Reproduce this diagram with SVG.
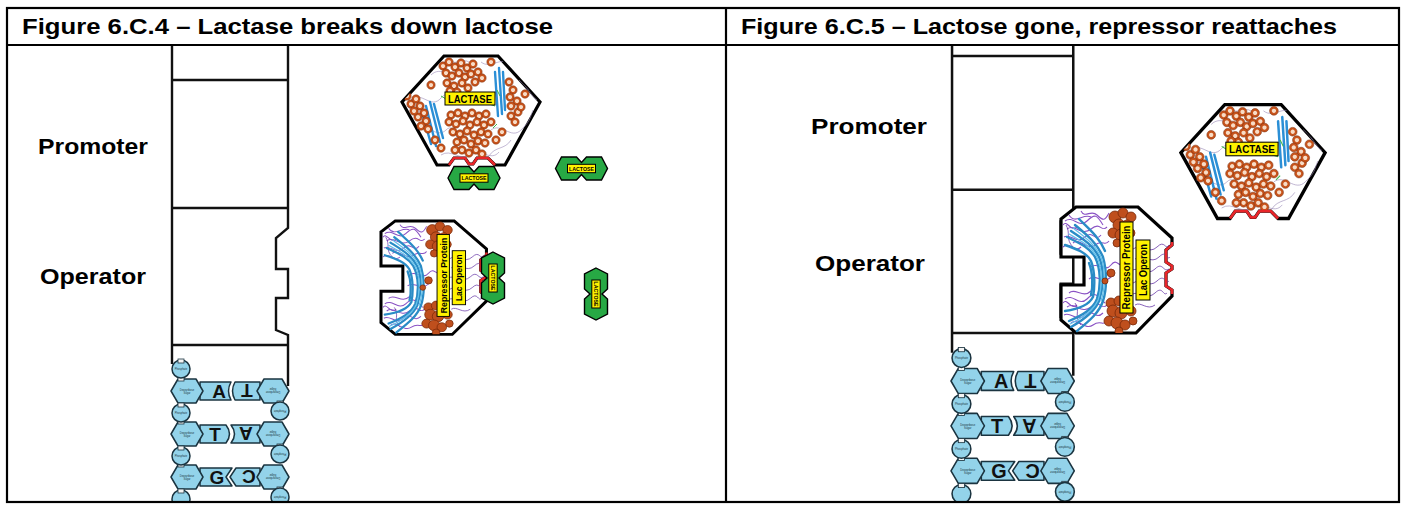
<svg xmlns="http://www.w3.org/2000/svg" xmlns:xlink="http://www.w3.org/1999/xlink" width="1403" height="506" viewBox="0 0 1403 506">
  <style>
    .frame { fill: none; stroke: #000; stroke-width: 2.2; }
    .col { fill: none; stroke: #111; stroke-width: 2.4; }
    .hd { font-family: "Liberation Sans", Arial, sans-serif; font-weight: bold; font-size: 21.5px; fill: #000; }
    .lbl { font-family: "Liberation Sans", Arial, sans-serif; font-weight: bold; font-size: 22.5px; fill: #000; }
    .nt { fill: #93d3ea; stroke: #1b3440; stroke-width: 1.5; stroke-linejoin: round; }
    .lnk { fill: #f4f4f4; stroke: #1b3440; stroke-width: 0.8; }
    .let { font-family: "Liberation Sans", Arial, sans-serif; font-weight: bold; font-size: 19px; fill: #111; text-anchor: middle; }
    .tiny { font-family: "Liberation Sans", Arial, sans-serif; font-size: 2.6px; fill: #1b3440; text-anchor: middle; }
    .tag { fill: #fff200; stroke: #000; stroke-width: 1; }
    .tagt { font-family: "Liberation Sans", Arial, sans-serif; font-weight: bold; fill: #000; text-anchor: middle; }
    .outl { fill: #fff; stroke: #000; stroke-width: 3.2; stroke-linejoin: miter; }
    .site { fill: none; stroke: #e8262a; stroke-width: 2.6; stroke-linejoin: miter; }
    .pur { fill: none; stroke: #8a52c4; stroke-width: 1.1; }
    .pur2 { fill: none; stroke: #6a3aa8; stroke-width: 0.8; }
    .blu { fill: none; stroke: #2a8cc6; stroke-width: 2.4; stroke-linecap: round; }
    .blu2 { fill: none; stroke: #63c0ea; stroke-width: 1.3; stroke-linecap: round; }
    .brn { fill: #bf4f1d; stroke: #7a2a0a; stroke-width: 0.8; }
    .loop { fill: none; stroke: #9c8cb8; stroke-width: 0.6; }
    .sheet { fill: none; stroke: #2b8fd6; stroke-width: 2.4; stroke-linecap: round; }
    .grn { fill: none; stroke: #3cb84a; stroke-width: 1; }
    .sugar { fill: #27a844; stroke: #000; stroke-width: 1.4; stroke-linejoin: miter; }
  </style>

  <defs>
    <!-- orange alpha-helix coil seen end-on -->
    <g id="hx">
      <circle r="3.1" fill="#f7dcc6" stroke="#c8541c" stroke-width="2.1"/>
      <circle r="4.2" fill="none" stroke="#7a2c0c" stroke-width="0.5"/>
    </g>

    <!-- lactose: two joined hexagonal rings with a name tag -->
    <g id="lactose">
      <path class="sugar" d="M-26,0 L-20,-11.5 H-5 L0,-6 L5,-11.5 H20 L26,0 L20,11.5 H5 L0,6 L-5,11.5 H-20 Z"/>
      <rect class="tag" x="-14" y="-4.2" width="28" height="8.4" stroke-width="0.7"/>
      <text class="tagt" x="0" y="2.2" font-size="6" font-weight="normal" textLength="25" lengthAdjust="spacingAndGlyphs">LACTOSE</text>
    </g>

    <clipPath id="lactaseClip">
      <path d="M-27,-54 H27 L69,-8 L34,55 H-34 L-69,-8 Z"/>
    </clipPath>

    <!-- lactase enzyme, hexagonal outline with red substrate site on the bottom -->
    <g id="lactase">
      <path class="outl" d="M-27,-54 H27 L69,-8 L34,55 H24 L17,48 H6 L2,54 H-2 L-6,48 H-17 L-22,55 H-34 L-69,-8 Z"/>
      <g clip-path="url(#lactaseClip)">
        <g class="loop">
          <path d="M-60,-10 C-50,-20 -40,0 -30,-12 S-10,-2 0,-10"/>
          <path d="M-55,20 C-45,10 -35,30 -25,20 S-15,40 -5,30"/>
          <path d="M10,-48 C20,-40 30,-55 40,-45 S50,-30 58,-20"/>
          <path d="M20,20 C30,12 40,30 50,20 S58,10 62,0"/>
          <path d="M-40,-35 C-30,-45 -20,-30 -10,-40"/>
          <path d="M-30,45 C-20,38 -10,52 0,45 S20,52 28,42"/>
          <path d="M40,30 C34,40 24,36 18,46"/>
          <path d="M-64,-4 C-58,4 -50,-2 -44,6"/>
          <path d="M48,-30 C56,-24 60,-14 66,-10"/>
          <path d="M-20,-50 C-16,-44 -8,-52 -2,-48"/>
        </g>
        <g class="sheet">
          <path d="M-45,-4 L-35,36"/>
          <path d="M-41,-8 L-31,32"/>
          <path d="M-37,-6 L-28,28"/>
          <path d="M-49,2 L-40,34"/>
          <path d="M24,-38 L27,6"/>
          <path d="M28,-42 L31,4"/>
          <path d="M32,-38 L34,0"/>
        </g>
        <g>
          <use xlink:href="#hx" x="-28" y="-44"/><use xlink:href="#hx" x="-22" y="-48"/><use xlink:href="#hx" x="-16" y="-43"/>
          <use xlink:href="#hx" x="-10" y="-47"/><use xlink:href="#hx" x="-4" y="-42"/><use xlink:href="#hx" x="2" y="-46"/>
          <use xlink:href="#hx" x="-25" y="-37"/><use xlink:href="#hx" x="-19" y="-34"/><use xlink:href="#hx" x="-12" y="-37"/>
          <use xlink:href="#hx" x="-6" y="-33"/><use xlink:href="#hx" x="0" y="-36"/><use xlink:href="#hx" x="7" y="-38"/>
          <use xlink:href="#hx" x="-24" y="-27"/><use xlink:href="#hx" x="-17" y="-24"/><use xlink:href="#hx" x="-9" y="-27"/>
          <use xlink:href="#hx" x="-3" y="-22"/><use xlink:href="#hx" x="4" y="-28"/><use xlink:href="#hx" x="11" y="-32"/>
          <use xlink:href="#hx" x="-14" y="-18"/><use xlink:href="#hx" x="-21" y="-19"/>
          <use xlink:href="#hx" x="-20" y="5"/><use xlink:href="#hx" x="-13" y="3"/><use xlink:href="#hx" x="-6" y="6"/>
          <use xlink:href="#hx" x="1" y="3"/><use xlink:href="#hx" x="8" y="6"/><use xlink:href="#hx" x="15" y="4"/>
          <use xlink:href="#hx" x="-22" y="12"/><use xlink:href="#hx" x="-15" y="14"/><use xlink:href="#hx" x="-8" y="11"/>
          <use xlink:href="#hx" x="-1" y="15"/><use xlink:href="#hx" x="6" y="12"/><use xlink:href="#hx" x="13" y="15"/>
          <use xlink:href="#hx" x="20" y="12"/><use xlink:href="#hx" x="-18" y="22"/><use xlink:href="#hx" x="-11" y="24"/>
          <use xlink:href="#hx" x="-4" y="21"/><use xlink:href="#hx" x="3" y="25"/><use xlink:href="#hx" x="10" y="22"/>
          <use xlink:href="#hx" x="17" y="24"/><use xlink:href="#hx" x="-14" y="32"/><use xlink:href="#hx" x="-7" y="30"/>
          <use xlink:href="#hx" x="0" y="34"/><use xlink:href="#hx" x="7" y="31"/><use xlink:href="#hx" x="14" y="33"/>
          <use xlink:href="#hx" x="-9" y="40"/><use xlink:href="#hx" x="-2" y="43"/><use xlink:href="#hx" x="5" y="40"/>
          <use xlink:href="#hx" x="11" y="44"/><use xlink:href="#hx" x="-16" y="40"/>
          <use xlink:href="#hx" x="-60" y="-6"/><use xlink:href="#hx" x="-55" y="-11"/><use xlink:href="#hx" x="-51" y="-4"/>
          <use xlink:href="#hx" x="-47" y="3"/><use xlink:href="#hx" x="-53" y="7"/><use xlink:href="#hx" x="-45" y="11"/>
          <use xlink:href="#hx" x="-50" y="16"/><use xlink:href="#hx" x="-43" y="19"/><use xlink:href="#hx" x="-57" y="1"/>
          <use xlink:href="#hx" x="38" y="-28"/><use xlink:href="#hx" x="42" y="-20"/><use xlink:href="#hx" x="39" y="-13"/>
          <use xlink:href="#hx" x="46" y="-9"/><use xlink:href="#hx" x="40" y="-4"/><use xlink:href="#hx" x="47" y="2"/>
          <use xlink:href="#hx" x="40" y="6"/><use xlink:href="#hx" x="44" y="12"/><use xlink:href="#hx" x="50" y="-3"/>
          <use xlink:href="#hx" x="-36" y="30"/><use xlink:href="#hx" x="-30" y="38"/><use xlink:href="#hx" x="25" y="30"/>
          <use xlink:href="#hx" x="31" y="22"/><use xlink:href="#hx" x="-40" y="-25"/><use xlink:href="#hx" x="20" y="-48"/>
          <use xlink:href="#hx" x="-64" y="-14"/><use xlink:href="#hx" x="54" y="-16"/>
        </g>
        <g class="grn">
          <path d="M-30,-14 l5,3"/><path d="M18,-6 l6,2"/><path d="M22,18 l4,-4"/><path d="M-4,-10 l4,4"/><path d="M26,-20 l3,6"/>
        </g>
      </g>
      <path class="site" d="M24,55 L17,48 H6 L2,54 H-2 L-6,48 H-17 L-22,55"/>
      <rect class="tag" x="-26" y="-18" width="50" height="13" stroke-width="1.2"/>
      <text class="tagt" x="-1" y="-7.3" font-size="11" textLength="44" lengthAdjust="spacingAndGlyphs">LACTASE</text>
    </g>

    <clipPath id="repClip">
      <path d="M0,12 L15,0 H77 L111,31 V89 L75,126 H15 L0,113 V78 H23 V50 H0 Z"/>
    </clipPath>

    <!-- lac repressor protein with operator-shaped slot on the left and inducer site on the right -->
    <g id="repressor">
      <path class="outl" d="M0,12 L15,0 H77 L111,31 V38 L105,43 V55 L111,59 V62 L105,66 V79 L111,83 V89 L75,126 H15 L0,113 V78 H23 V50 H0 Z"/>
      <g clip-path="url(#repClip)">
        <g class="pur">
          <path d="M4,14 C12,8 18,22 26,14 S36,8 42,18"/>
          <path d="M6,22 C14,16 20,30 30,22 S40,26 46,20"/>
          <path d="M3,30 C10,26 16,38 24,30 S34,36 40,28"/>
          <path d="M8,8 C14,18 22,6 30,10"/>
          <path d="M12,36 C18,30 26,44 34,38 S44,40 48,34"/>
          <path d="M20,4 C24,12 30,2 36,8 S44,14 48,6"/>
          <path d="M2,40 C8,34 14,46 20,40"/>
          <path d="M2,18 C6,12 10,26 16,20"/>
          <path d="M4,92 C12,86 18,100 26,92 S36,88 44,96"/>
          <path d="M6,100 C14,94 20,108 30,100 S40,104 46,98"/>
          <path d="M3,108 C10,104 16,116 24,108 S34,114 42,106"/>
          <path d="M10,116 C16,110 24,124 32,118 S42,120 46,114"/>
          <path d="M8,86 C14,80 22,92 30,84"/>
          <path d="M2,96 C6,90 10,104 16,98"/>
          <path d="M30,60 C36,54 44,66 50,58 S58,62 62,56"/>
          <path d="M28,72 C34,66 42,78 50,70"/>
        </g>
        <g class="pur2">
          <path d="M72,42 C80,36 88,48 96,40 S104,44 108,38"/>
          <path d="M74,52 C82,46 90,58 98,50 S106,54 109,50"/>
          <path d="M70,64 C78,58 86,70 94,62 S102,66 108,62"/>
          <path d="M72,76 C80,70 88,82 96,74 S104,78 108,74"/>
          <path d="M70,88 C78,82 86,94 94,86 S102,90 106,86"/>
          <path d="M74,98 C80,94 86,104 94,98"/>
          <path d="M5,18 C10,26 4,32 12,40"/>
          <path d="M14,96 C20,104 12,110 20,118"/>
        </g>
        <g class="blu">
          <path d="M6,30 C18,36 28,40 34,50 C40,62 40,80 36,92 C32,102 22,108 8,114"/>
          <path d="M10,24 C22,32 32,38 38,50 C44,64 42,82 38,94 C34,104 24,112 10,120"/>
          <path d="M14,18 C26,28 36,36 42,50 C46,64 46,82 42,94 C38,106 28,114 16,124"/>
          <path d="M4,38 C16,42 26,46 30,54 C34,64 34,80 32,90 C28,98 18,102 4,104"/>
          <path d="M18,12 C28,22 38,30 44,44"/>
          <path d="M28,56 C32,66 32,80 30,88"/>
        </g>
        <g class="blu2">
          <path d="M8,27 C20,34 30,39 36,50 C42,63 41,81 37,93 C33,103 23,110 9,117"/>
          <path d="M12,21 C24,30 34,37 40,50 C45,64 44,82 40,94"/>
        </g>
        <g class="brn">
          <circle cx="54" cy="10" r="6"/><circle cx="62" cy="6" r="5"/><circle cx="70" cy="10" r="5"/>
          <circle cx="58" cy="18" r="6"/><circle cx="66" cy="18" r="5"/><circle cx="52" cy="26" r="5"/>
          <circle cx="60" cy="28" r="6"/><circle cx="70" cy="26" r="4"/><circle cx="56" cy="36" r="4"/>
          <circle cx="66" cy="34" r="4"/>
          <circle cx="50" cy="96" r="5"/><circle cx="58" cy="94" r="5"/><circle cx="66" cy="98" r="5"/>
          <circle cx="52" cy="104" r="6"/><circle cx="60" cy="106" r="6"/><circle cx="70" cy="104" r="5"/>
          <circle cx="48" cy="114" r="5"/><circle cx="56" cy="116" r="6"/><circle cx="64" cy="118" r="5"/>
          <circle cx="72" cy="114" r="4"/><circle cx="58" cy="124" r="4"/>
          <circle cx="50" cy="66" r="4"/><circle cx="44" cy="74" r="3"/>
        </g>
      </g>
      <path class="site" d="M111,35 V38 L105,43 V55 L111,59 V62 L105,66 V79 L111,83 V87"/>
      <rect class="tag" x="59" y="15" width="13" height="91" stroke-width="1.2"/>
      <text class="tagt" transform="translate(65.5,60.5) rotate(-90)" x="0" y="3.6" font-size="10" textLength="84" lengthAdjust="spacingAndGlyphs">Repressor Protein</text>
      <rect class="tag" x="75" y="33" width="14" height="60" stroke-width="1.2"/>
      <text class="tagt" transform="translate(82,63) rotate(-90)" x="0" y="3.6" font-size="10" textLength="52" lengthAdjust="spacingAndGlyphs">Lac Operon</text>
    </g>

    <!-- DNA strip: promoter / operator cells above a short A-T, T-A, G-C ladder -->
    <g id="dna">
      <line class="col" x1="172" y1="40" x2="172" y2="364"/>
      <path class="col" d="M288,40 V228 L276,238 V269 H288 V298 H276 V330 L288,335 V386"/>
      <line class="col" x1="172" y1="80" x2="288" y2="80"/>
      <line class="col" x1="172" y1="208" x2="288" y2="208"/>
      <line class="col" x1="172" y1="345" x2="288" y2="345"/>

      <!-- base pairs -->
      <path class="nt" d="M200,382 H231 Q226,391 231,400 H200 Z"/>
      <path class="nt" d="M235,382 Q230,391 235,400 H260 V382 Z"/>
      <path class="nt" d="M200,425 H226 Q233,434 226,443 H200 Z"/>
      <path class="nt" d="M231,425 Q238,434 231,443 H260 V425 Z"/>
      <path class="nt" d="M200,468 H232 L226,477 L232,486 H200 Z"/>
      <path class="nt" d="M236,468 L230,477 L236,486 H260 V468 Z"/>
      <text class="let" x="219" y="398">A</text>
      <text class="let" transform="translate(247,391) rotate(180)" x="0" y="7">T</text>
      <text class="let" x="215" y="441">T</text>
      <text class="let" transform="translate(246,434) rotate(180)" x="0" y="7">A</text>
      <text class="let" x="217" y="484">G</text>
      <text class="let" transform="translate(249,477) rotate(180)" x="0" y="7">C</text>

      <!-- deoxyribose sugars -->
      <polygon class="nt" points="171,391 178,379 196,379 203,391 196,403 178,403"/>
      <polygon class="nt" points="171,434 178,422 196,422 203,434 196,446 178,446"/>
      <polygon class="nt" points="171,477 178,465 196,465 203,477 196,489 178,489"/>
      <polygon class="nt" points="289,391 282,379 264,379 257,391 264,403 282,403"/>
      <polygon class="nt" points="289,434 282,422 264,422 257,434 264,446 282,446"/>
      <polygon class="nt" points="289,477 282,465 264,465 257,477 264,489 282,489"/>
      <text class="tiny" x="187" y="391">Deoxyribose</text><text class="tiny" x="187" y="394">Sugar</text>
      <text class="tiny" x="187" y="434">Deoxyribose</text><text class="tiny" x="187" y="437">Sugar</text>
      <text class="tiny" x="187" y="477">Deoxyribose</text><text class="tiny" x="187" y="480">Sugar</text>
      <text class="tiny" transform="translate(273,391) rotate(180)">Deoxyribose</text><text class="tiny" transform="translate(273,388) rotate(180)">Sugar</text>
      <text class="tiny" transform="translate(273,434) rotate(180)">Deoxyribose</text><text class="tiny" transform="translate(273,431) rotate(180)">Sugar</text>
      <text class="tiny" transform="translate(273,477) rotate(180)">Deoxyribose</text><text class="tiny" transform="translate(273,474) rotate(180)">Sugar</text>

      <!-- phosphates -->
      <rect class="lnk" x="178" y="376" width="6" height="5"/>
      <rect class="lnk" x="178" y="419" width="6" height="5"/>
      <rect class="lnk" x="178" y="462" width="6" height="5"/>
      <rect class="lnk" x="277" y="401" width="6" height="5"/>
      <rect class="lnk" x="277" y="444" width="6" height="5"/>
      <rect class="lnk" x="277" y="487" width="6" height="5"/>
      <circle class="nt" cx="181" cy="369" r="9"/>
      <circle class="nt" cx="181" cy="413" r="9"/>
      <circle class="nt" cx="181" cy="456" r="9"/>
      <circle class="nt" cx="181" cy="499" r="9"/>
      <circle class="nt" cx="280" cy="411" r="9"/>
      <circle class="nt" cx="280" cy="454" r="9"/>
      <circle class="nt" cx="280" cy="497" r="9"/>
      <rect class="lnk" x="178" y="359" width="6" height="4"/>
      <rect class="lnk" x="178" y="403" width="6" height="4"/>
      <rect class="lnk" x="178" y="446" width="6" height="4"/>
      <rect class="lnk" x="178" y="489" width="6" height="4"/>
      <text class="tiny" x="181" y="370">Phosphate</text>
      <text class="tiny" x="181" y="414">Phosphate</text>
      <text class="tiny" x="181" y="457">Phosphate</text>
      <text class="tiny" transform="translate(280,410) rotate(180)">Phosphate</text>
      <text class="tiny" transform="translate(280,453) rotate(180)">Phosphate</text>
      <text class="tiny" transform="translate(280,496) rotate(180)">Phosphate</text>
    </g>

    <clipPath id="leftCell"><rect x="8" y="45" width="717" height="456"/></clipPath>
    <clipPath id="rightCell"><rect x="727" y="45" width="671" height="456"/></clipPath>
  </defs>

  <rect width="1403" height="506" fill="#fff"/>

  <!-- left panel: lactase breaks down lactose -->
  <g id="panel-left" clip-path="url(#leftCell)">
    <use id="dna-left" xlink:href="#dna"/>
    <g id="lactase-left"><use xlink:href="#lactase" transform="translate(471,110)"/></g>
    <g id="lactose-bound"><use xlink:href="#lactose" transform="translate(474,178)"/></g>
    <g id="lactose-free-1"><use xlink:href="#lactose" transform="translate(581.5,168.5)"/></g>
    <g id="repressor-left"><use xlink:href="#repressor" transform="translate(381,221) scale(0.95,0.9)"/></g>
    <g id="lactose-on-repressor"><use xlink:href="#lactose" transform="translate(493,278) rotate(90)"/></g>
    <g id="lactose-free-2"><use xlink:href="#lactose" transform="translate(596,294) rotate(90)"/></g>
    <text class="lbl" x="38" y="154" textLength="110" lengthAdjust="spacingAndGlyphs">Promoter</text>
    <text class="lbl" x="40" y="284" textLength="106" lengthAdjust="spacingAndGlyphs">Operator</text>
  </g>

  <!-- right panel: repressor back on the operator -->
  <g id="panel-right" clip-path="url(#rightCell)">
    <use id="dna-right" xlink:href="#dna" transform="translate(772.3,-27.6) scale(1.045)"/>
    <g id="repressor-right"><use xlink:href="#repressor" transform="translate(1061,207)"/></g>
    <g id="lactase-right"><use xlink:href="#lactase" transform="translate(1253,161) scale(1.045)"/></g>
    <text class="lbl" x="811" y="134" textLength="116" lengthAdjust="spacingAndGlyphs">Promoter</text>
    <text class="lbl" x="815" y="271" textLength="110" lengthAdjust="spacingAndGlyphs">Operator</text>
  </g>

  <!-- table frame and headings -->
  <g id="table">
    <rect class="frame" x="7" y="8" width="1392" height="494"/>
    <line class="frame" x1="7" y1="45" x2="1399" y2="45"/>
    <line class="frame" x1="726" y1="8" x2="726" y2="502"/>
    <text class="hd" x="22" y="34" textLength="531" lengthAdjust="spacingAndGlyphs">Figure 6.C.4 – Lactase breaks down lactose</text>
    <text class="hd" x="741" y="34" textLength="596" lengthAdjust="spacingAndGlyphs">Figure 6.C.5 – Lactose gone, repressor reattaches</text>
  </g>
</svg>
